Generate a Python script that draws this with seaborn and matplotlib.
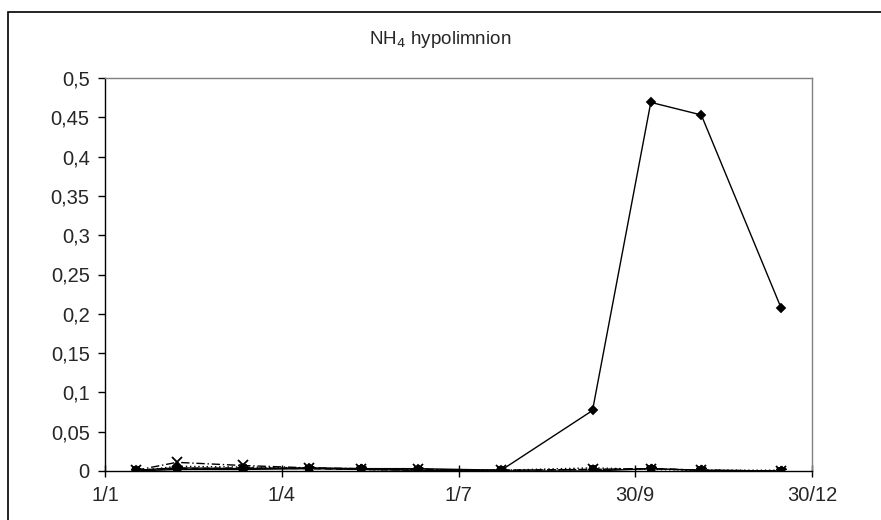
import numpy as np
import pandas as pd
import matplotlib
matplotlib.use("Agg")
import matplotlib.pyplot as plt
import seaborn as sns
from matplotlib.patches import Rectangle

sns.set_theme(style="white")
plt.rcParams['font.family'] = ['Liberation Sans', 'DejaVu Sans']

# sampling dates (leap year, so ticks 1/1 + n*91 days land on 1/4, 1/7, 30/9, 30/12)
dates = ["2004-01-17", "2004-02-07", "2004-03-12", "2004-04-15", "2004-05-12",
         "2004-06-10", "2004-07-23", "2004-09-08", "2004-10-08", "2004-11-03",
         "2004-12-14"]

s1 = [0.001, 0.004, 0.003, 0.004, 0.003, 0.003, 0.001, 0.077, 0.469, 0.453, 0.208]
s2 = [0.001, 0.003, 0.004, 0.003, 0.002, 0.001, 0.001, 0.002, 0.003, 0.001, 0.000]
s3 = [0.000, 0.006, 0.005, 0.004, 0.002, 0.001, 0.001, 0.004, 0.002, 0.001, 0.001]
s4 = [0.001, 0.011, 0.007, 0.004, 0.003, 0.002, 0.001, 0.002, 0.003, 0.001, 0.000]
s5 = [0.000, 0.002, 0.002, 0.003, 0.002, 0.001, 0.000, 0.000, 0.003, 0.001, 0.000]

x_ticks = ["2004-01-01", "2004-04-01", "2004-07-01", "2004-09-30", "2004-12-30"]
x_labels = ["1/1", "1/4", "1/7", "30/9", "30/12"]
y_ticks = [0, 0.05, 0.1, 0.15, 0.2, 0.25, 0.3, 0.35, 0.4, 0.45, 0.5]
y_labels = ["0", "0,05", "0,1", "0,15", "0,2", "0,25", "0,3", "0,35", "0,4", "0,45", "0,5"]

d = pd.to_datetime(dates)
# (values, marker, linestyle, marker size)
series = [
    (s1, "D", "-", 4.5),
    (s2, "s", (0, (5, 3)), 5),
    (s3, "^", (0, (1, 2)), 5),
    (s4, "x", (0, (6, 2, 1, 2)), 7),
    (s5, (6, 2, 0), "-", 8),
]

fig = plt.figure(figsize=(8.81, 5.2), dpi=100)
ax = fig.add_axes([105 / 881, 1 - 471 / 520, 707 / 881, 393 / 520])

for vals, mk, ls, ms in series:
    sns.lineplot(x=d, y=vals, ax=ax, color="black", linewidth=1.0,
                 linestyle=ls, marker=mk, markersize=ms, markeredgewidth=1.3,
                 markeredgecolor="black", markerfacecolor="black")

ax.set_xlim(pd.Timestamp(x_ticks[0]), pd.Timestamp(x_ticks[-1]))
ax.set_ylim(0, 0.5)
ax.set_xticks(pd.to_datetime(x_ticks))
ax.set_xticklabels(x_labels)
ax.set_yticks(y_ticks)
ax.set_yticklabels(y_labels)
ax.set_xlabel("")
ax.set_ylabel("")

for side in ["left", "bottom"]:
    ax.spines[side].set_color("black")
    ax.spines[side].set_linewidth(1.0)
for side in ["top", "right"]:
    ax.spines[side].set_color("#808080")
    ax.spines[side].set_linewidth(1.0)

ax.tick_params(axis="y", direction="out", length=5, width=1, color="black",
               labelsize=14.5, pad=6, left=True)
ax.tick_params(axis="x", direction="inout", length=8, width=1, color="black",
               labelsize=14.5, pad=7, bottom=True)

fig.text(0.5, 1 - 40 / 520, "NH$_4$ hypolimnion", ha="center", va="center",
         fontsize=13.5)

# outer chart frame (runs off the canvas to the right and bottom)
fig.patches.append(Rectangle((8 / 881, -0.1), 1.2, 1 - 12 / 520 + 0.1,
                             transform=fig.transFigure, fill=False,
                             edgecolor="black", linewidth=1.2))

fig.savefig("out.png", dpi=100)
